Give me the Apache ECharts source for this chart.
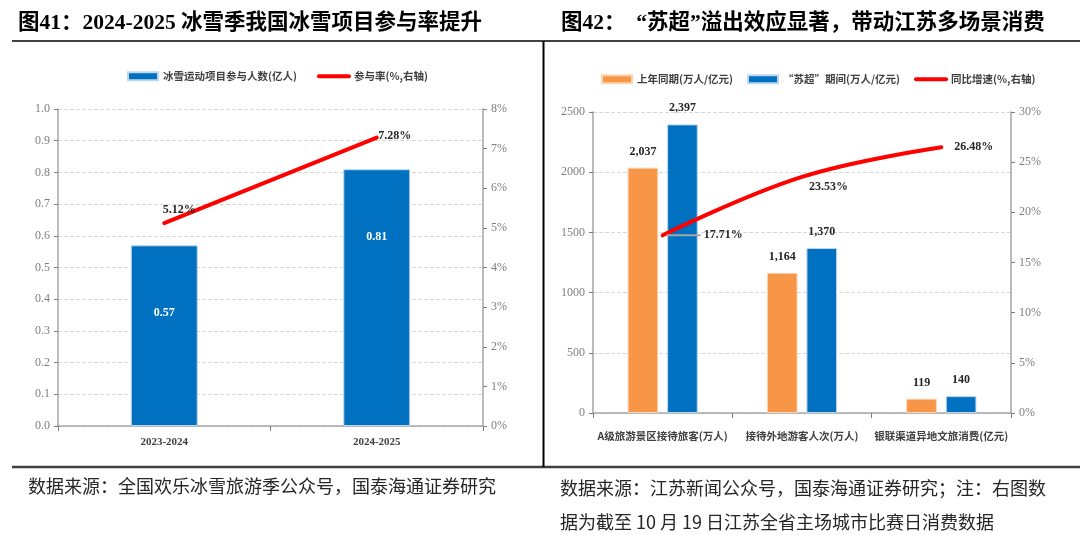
<!DOCTYPE html>
<html>
<head>
    <meta charset="UTF-8">
    <title>冰雪季 / 苏超</title>
    <script src="https://cdn.jsdelivr.net/npm/echarts@6/dist/echarts.min.js"></script>
    <style>
        html, body { margin: 0; padding: 0; background: #fff; }
        #main { width: 1080px; height: 535px; }
    </style>
</head>
<body>
    <div id="main"></div>
    <script>
        // left chart (图41)
        var seasons = ['2023-2024', '2024-2025'];
        var skiPeople = [0.57, 0.81];
        var skiRate = [5.12, 7.28];

        // right chart (图42)
        var suCats = ['A级旅游景区接待旅客(万人)', '接待外地游客人次(万人)', '银联渠道异地文旅消费(亿元)'];
        var lastYear = [2037, 1164, 119];
        var suPeriod = [2397, 1370, 140];
        var yoyRate = [17.71, 23.53, 26.48];

        var serif = '"Liberation Serif", "Times New Roman", serif';
        var cjk = '"Noto Sans CJK SC", sans-serif';
        var numFont = '"Liberation Serif", "Noto Sans CJK SC", serif';

        var chart = echarts.init(document.getElementById('main'), null, {renderer: 'canvas'});

        function valAxis(grid, pos, max, step, fmt, size, split) {
            return {
                type: 'value', gridIndex: grid, position: pos,
                min: 0, max: max, interval: step,
                axisLine: {show: true, lineStyle: {color: '#a6a6a6', width: 1.5}},
                axisTick: {show: true, length: 4, lineStyle: {color: '#7f7f7f'}},
                axisLabel: {color: '#7f7f7f', fontFamily: serif, fontSize: size, margin: 8, formatter: fmt},
                splitLine: {show: split, lineStyle: {color: '#d9d9d9', type: 'dashed'}}
            };
        }

        function catAxis(grid, data, font, size, margin) {
            return {
                type: 'category', gridIndex: grid, data: data, boundaryGap: true,
                axisLine: {lineStyle: {color: '#a6a6a6', width: 1.5}},
                axisTick: {show: true, length: 5, lineStyle: {color: '#7f7f7f'}},
                axisLabel: {color: '#404040', fontFamily: font, fontWeight: 'bold', fontSize: size,
                            margin: margin, interval: 0}
            };
        }

        var pctLabel = function (p) { return Number(p.value).toFixed(2) + '%'; };
        var commaLabel = function (p) { return p.value.toLocaleString('en-US'); };
        // first growth label carries a short grey leader rule in front of it
        var leaderLabel = function (p) { return '{ln| }{v|' + pctLabel(p) + '}'; };
        var lineLegend = {itemStyle: {opacity: 0}, lineStyle: {width: 4, color: '#ff0000'}};
        var labelFont = {color: '#262626', fontFamily: serif, fontWeight: 'bold', fontSize: 12};

        var option = {
            animation: false,
            backgroundColor: '#fff',
            title: [
                {text: '图41：2024-2025 冰雪季我国冰雪项目参与率提升', left: 13, top: 8,
                 textStyle: {fontFamily: numFont, fontWeight: 'bold', fontSize: 21.5, color: '#000'}},
                {text: '图42：  “苏超”溢出效应显著，带动江苏多场景消费', left: 556, top: 8,
                 textStyle: {fontFamily: numFont, fontWeight: 'bold', fontSize: 21.5, color: '#000'}},
                {text: '数据来源：全国欢乐冰雪旅游季公众号，国泰海通证券研究', left: 23, top: 472,
                 textStyle: {fontFamily: cjk, fontWeight: 'normal', fontSize: 18, color: '#262626'}},
                {text: '数据来源：江苏新闻公众号，国泰海通证券研究；注：右图数\n据为截至 10 月 19 日江苏全省主场城市比赛日消费数据',
                 left: 555, top: 466,
                 textStyle: {fontFamily: cjk, fontWeight: 'normal', fontSize: 18, color: '#262626', lineHeight: 34}}
            ],
            graphic: [
                {type: 'line', shape: {x1: 12, y1: 41, x2: 1080, y2: 41}, style: {stroke: '#404040', lineWidth: 2}},
                {type: 'line', shape: {x1: 12, y1: 467, x2: 1080, y2: 467}, style: {stroke: '#404040', lineWidth: 2.5}},
                {type: 'line', shape: {x1: 543.5, y1: 41, x2: 543.5, y2: 467}, style: {stroke: '#000', lineWidth: 2}}
            ],
            legend: [
                {
                    left: 122, top: 66, itemGap: 20, itemWidth: 30, itemHeight: 8,
                    textStyle: {fontFamily: cjk, fontSize: 10.5, fontWeight: 'bold', color: '#404040'},
                    data: [{name: '冰雪运动项目参与人数(亿人)', icon: 'rect'},
                           Object.assign({name: '参与率(%,右轴)'}, lineLegend)]
                },
                {
                    left: 596, top: 69, itemGap: 14, itemWidth: 30, itemHeight: 8,
                    textStyle: {fontFamily: cjk, fontSize: 10.5, fontWeight: 'bold', color: '#404040'},
                    data: [{name: '上年同期(万人/亿元)', icon: 'rect'}, {name: '“苏超”期间(万人/亿元)', icon: 'rect'},
                           Object.assign({name: '同比增速(%,右轴)'}, lineLegend)]
                }
            ],
            grid: [
                {left: 58, right: 597, top: 109, bottom: 109},
                {left: 593, right: 69, top: 112, bottom: 122}
            ],
            xAxis: [
                catAxis(0, seasons, serif, 11, 11),
                catAxis(1, suCats, cjk, 10.5, 18)
            ],
            yAxis: [
                valAxis(0, 'left', 1, 0.1, function (v) { return v.toFixed(1); }, 12, true),
                valAxis(0, 'right', 8, 1, '{value}%', 12, false),
                valAxis(1, 'left', 2500, 500, function (v) { return String(v); }, 12, true),
                valAxis(1, 'right', 30, 5, '{value}%', 12, false)
            ],
            series: [
                {
                    name: '冰雪运动项目参与人数(亿人)', type: 'bar', xAxisIndex: 0, yAxisIndex: 0,
                    data: skiPeople, barWidth: '31.5%',
                    itemStyle: {color: '#0070C0', borderColor: '#bdd7ee', borderWidth: 1},
                    label: {show: true, position: 'insideTop', distance: 62, color: '#fff',
                            fontFamily: serif, fontWeight: 'bold', fontSize: 12}
                },
                {
                    name: '参与率(%,右轴)', type: 'line', xAxisIndex: 0, yAxisIndex: 1,
                    data: [
                        {value: skiRate[0], label: {position: 'top', offset: [15, -1]}},
                        {value: skiRate[1], label: {position: 'top', offset: [18, 10]}}
                    ],
                    symbol: 'circle', symbolSize: 2, itemStyle: {color: '#ff0000'},
                    lineStyle: {color: '#ff0000', width: 4, cap: 'round'},
                    label: Object.assign({show: true, formatter: pctLabel}, labelFont)
                },
                {
                    name: '上年同期(万人/亿元)', type: 'bar', xAxisIndex: 1, yAxisIndex: 2,
                    data: lastYear, barWidth: '22%', barGap: '29%',
                    itemStyle: {color: '#F79646', borderColor: '#fbd5b5', borderWidth: 1},
                    label: Object.assign({show: true, position: 'top', distance: 10, formatter: commaLabel}, labelFont)
                },
                {
                    name: '“苏超”期间(万人/亿元)', type: 'bar', xAxisIndex: 1, yAxisIndex: 2,
                    data: suPeriod, barWidth: '22%', barGap: '29%',
                    itemStyle: {color: '#0070C0', borderColor: '#bdd7ee', borderWidth: 1},
                    label: Object.assign({show: true, position: 'top', distance: 10, formatter: commaLabel}, labelFont)
                },
                {
                    name: '同比增速(%,右轴)', type: 'line', xAxisIndex: 1, yAxisIndex: 3, z: 5,
                    data: [
                        {value: yoyRate[0], label: {position: 'right', distance: 3, formatter: leaderLabel}},
                        {value: yoyRate[1], label: {position: 'right', distance: 6}},
                        {value: yoyRate[2], label: {position: 'right', distance: 12}}
                    ],
                    smooth: 0.4, symbol: 'circle', symbolSize: 2, itemStyle: {color: '#ff0000'},
                    lineStyle: {color: '#ff0000', width: 4, cap: 'round'},
                    label: Object.assign({
                        show: true, formatter: pctLabel,
                        rich: {
                            ln: {width: 34, height: 2, lineHeight: 2, fontSize: 2, backgroundColor: '#a6a6a6',
                                 verticalAlign: 'middle'},
                            v: Object.assign({padding: [0, 0, 0, 3], verticalAlign: 'middle'}, labelFont)
                        }
                    }, labelFont),
                    labelLayout: function (p) {
                        return p.dataIndex === 1 ? {dy: 10} : {};
                    }
                }
            ]
        };

        chart.setOption(option);
    </script>
</body>
</html>
